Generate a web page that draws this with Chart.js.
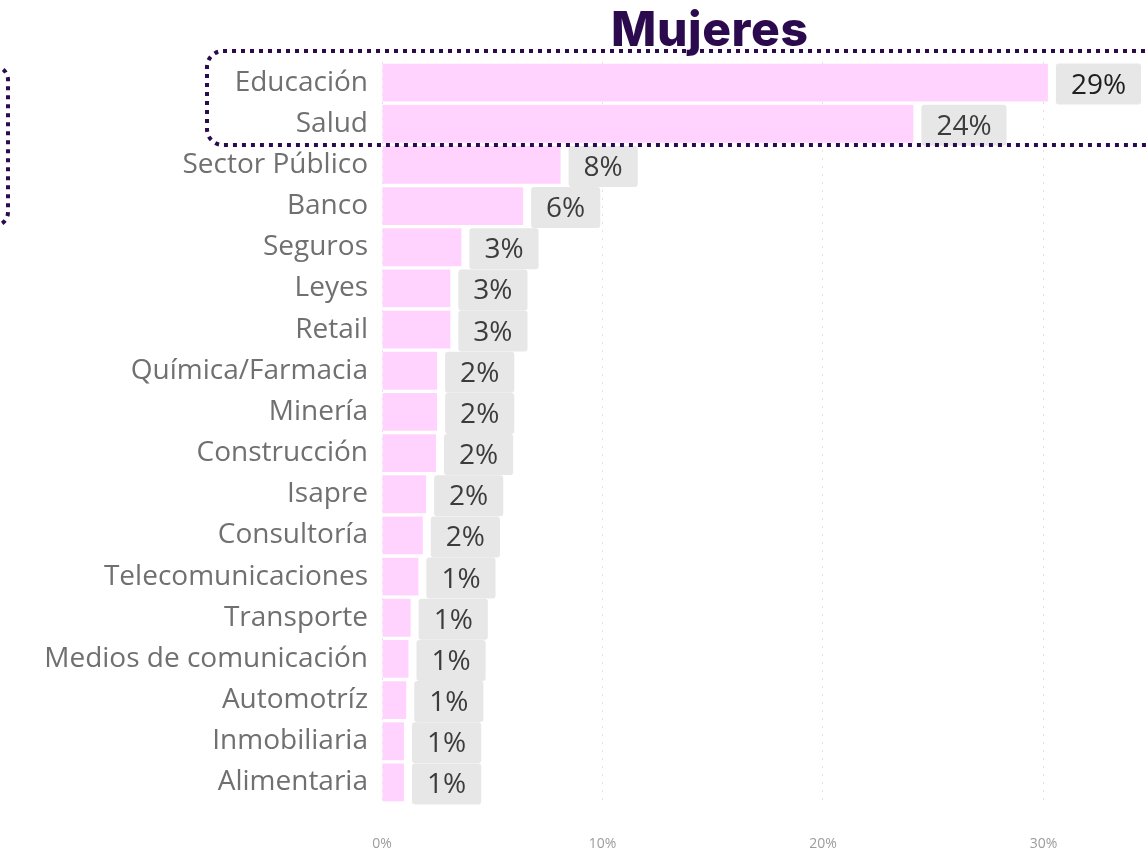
<!DOCTYPE html>
<html>
<head>
<meta charset="utf-8">
<script src="https://cdn.jsdelivr.net/npm/chart.js@4.4.1/dist/chart.umd.min.js"></script>
<style>
  body { margin: 0; background: #fff; }
  #wrap { position: relative; width: 1146px; height: 854px; overflow: hidden; }
  #title {
    position: absolute; left: 611px; top: -1px;
    font-family: Inter, "Noto Sans", sans-serif; font-weight: 800;
    font-size: 48px; line-height: 60px; color: #2b0b4e; letter-spacing: 0.6px;
  }
</style>
</head>
<body>
<div id="wrap">
  <canvas id="chart" width="1146" height="854"></canvas>
  <div id="title">Mujeres</div>
</div>
<script>
// data
const categories = ["Educación", "Salud", "Sector Público", "Banco", "Seguros", "Leyes", "Retail",
  "Química/Farmacia", "Minería", "Construcción", "Isapre", "Consultoría", "Telecomunicaciones",
  "Transporte", "Medios de comunicación", "Automotríz", "Inmobiliaria", "Alimentaria"];
const values = [30.2, 24.1, 8.1, 6.4, 3.6, 3.1, 3.1, 2.5, 2.5, 2.45, 2.0, 1.85, 1.65, 1.3, 1.2, 1.1, 1.0, 1.0];
const valueLabels = ["29%", "24%", "8%", "6%", "3%", "3%", "3%", "2%", "2%", "2%", "2%", "2%",
  "1%", "1%", "1%", "1%", "1%", "1%"];
const xTicks = [0, 10, 20, 30];

// grey boxes with the percentage next to each bar
const labelBoxes = {
  id: "labelBoxes",
  afterDatasetsDraw(chart) {
    const ctx = chart.ctx;
    const bars = chart.getDatasetMeta(0).data;
    ctx.save();
    ctx.font = "28px 'Open Sans', sans-serif";
    ctx.textAlign = "center";
    ctx.textBaseline = "middle";
    bars.forEach((bar, i) => {
      let txt = valueLabels[i];
      let w = ctx.measureText(txt).width + 30;
      let x = bar.x + 8;
      let y = bar.y - 19;
      ctx.fillStyle = "#e7e7e7";
      ctx.beginPath();
      ctx.roundRect(x, y, w, 41, 3);
      ctx.fill();
      ctx.fillStyle = i === 0 ? "#202020" : "#3c3c3c";
      ctx.fillText(txt, x + w / 2, bar.y + 3);
    });
    ctx.restore();
  }
};

// dotted highlight frames
const frames = {
  id: "frames",
  afterDraw(chart) {
    const ctx = chart.ctx;
    ctx.save();
    ctx.strokeStyle = "#2b0b4e";
    ctx.lineWidth = 4;
    ctx.setLineDash([4, 5]);
    ctx.beginPath();
    ctx.roundRect(207, 51, 1000, 94, 16);
    ctx.stroke();
    ctx.beginPath();
    ctx.roundRect(-100, 66, 108, 160, 14);
    ctx.stroke();
    ctx.restore();
  }
};

new Chart(document.getElementById("chart"), {
  type: "bar",
  data: {
    labels: categories,
    datasets: [{
      data: values,
      backgroundColor: "#ffd3fe",
      categoryPercentage: 1,
      barPercentage: 0.92
    }]
  },
  options: {
    indexAxis: "y",
    responsive: false,
    animation: false,
    layout: { padding: { top: 62, left: 0, right: 0, bottom: 0 } },
    plugins: { legend: { display: false }, tooltip: { enabled: false } },
    scales: {
      x: {
        min: 0,
        max: 34.65,
        afterBuildTicks: s => { s.ticks = s.ticks.filter(t => xTicks.includes(t.value)); },
        afterFit: s => { s.height = 51; },
        grid: { color: "#e2e2e2", lineWidth: 1, drawTicks: false },
        border: { display: false, dash: [2, 6] },
        ticks: {
          stepSize: 10,
          padding: 33,
          color: "#9c9c9c",
          font: { family: "'Open Sans', sans-serif", size: 14 },
          callback: v => v + "%"
        }
      },
      y: {
        afterFit: s => { s.width = 382; },
        grid: { display: false },
        border: { display: false },
        ticks: {
          padding: 6,
          color: "#707070",
          font: { family: "'Open Sans', sans-serif", size: 28 }
        }
      }
    }
  },
  plugins: [labelBoxes, frames]
});
</script>
</body>
</html>
